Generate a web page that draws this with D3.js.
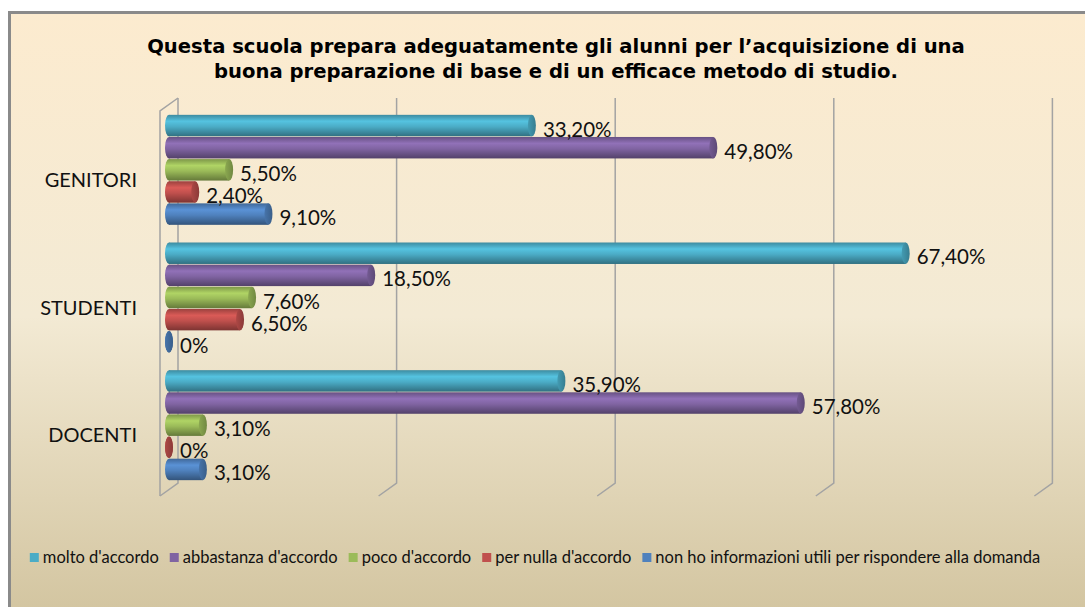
<!DOCTYPE html>
<html>
<head>
<meta charset="utf-8">
<script src="https://cdn.jsdelivr.net/npm/d3@7"></script>
<style>
  html, body { margin: 0; padding: 0; background: #fff; }
  svg { display: block; }
</style>
</head>
<body>
<svg id="chart" width="1085" height="607"></svg>
<script>
// data (percent)
const categories = ['GENITORI', 'STUDENTI', 'DOCENTI'];
const seriesNames = [
  "molto d'accordo",
  "abbastanza d'accordo",
  "poco d'accordo",
  "per nulla d'accordo",
  'non ho informazioni utili per rispondere alla domanda'
];
const molto = [33.2, 67.4, 35.9];
const abbastanza = [49.8, 18.5, 57.8];
const poco = [5.5, 7.6, 3.1];
const perNulla = [2.4, 6.5, 0];
const nonHoInfo = [9.1, 0, 3.1];
const tickValues = [0, 20, 40, 60, 80];
const seriesColors = ['#4BACC6', '#8064A2', '#9BBB59', '#C0504D', '#4F81BD'];

const titleLines = [
  'Questa scuola prepara adeguatamente gli alunni per l\u2019acquisizione di una',
  'buona preparazione di base e di un efficace metodo di studio.'
];

const seriesValues = [molto, abbastanza, poco, perNulla, nonHoInfo];

var svg = d3.select('#chart'),
  width = +svg.attr('width'),
  height = +svg.attr('height');

var defs = svg.append('defs');

// chart background
var bg = defs.append('linearGradient').attr('id', 'bg')
  .attr('x1', 0).attr('y1', 0).attr('x2', 0).attr('y2', 1);
bg.append('stop').attr('offset', '0%').attr('stop-color', '#fcebcf');
bg.append('stop').attr('offset', '50%').attr('stop-color', '#f3ead4');
bg.append('stop').attr('offset', '100%').attr('stop-color', '#d2c49f');

svg.append('rect')
  .attr('x', 9.5).attr('y', 12.5)
  .attr('width', width).attr('height', height)
  .attr('fill', 'url(#bg)')
  .attr('stroke', '#8a8a8a')
  .attr('stroke-width', 3);

// title
svg.append('g').selectAll('text')
  .data(titleLines)
  .enter()
  .append('text')
  .attr('x', 556)
  .attr('y', (d, i) => 53 + i * 25)
  .attr('text-anchor', 'middle')
  .style('font-family', 'Verdana, "DejaVu Sans", sans-serif')
  .style('font-weight', 'bold')
  .style('font-size', '19.6px')
  .text(d => d);

// scales
var depthX = 18, depthY = 13; // 3d wall offset
var x = d3.scaleLinear().domain([0, 80]).range([169, 169 + 80 * 10.93]);
var y = d3.scaleBand().domain(categories).range([106, 489]);
var groupH = 110;
var yInner = d3.scaleBand()
  .domain(d3.range(seriesNames.length))
  .range([(y.bandwidth() - groupH) / 2, (y.bandwidth() + groupH) / 2])
  .paddingInner(0.03);

var backTop = y.range()[0] - 8, backBottom = y.range()[1] - 6;

// gridlines (back wall + floor)
var grid = svg.append('g')
  .attr('stroke', '#a3a3a3')
  .attr('stroke-width', 1.5)
  .attr('fill', 'none');

grid.selectAll('path.gl')
  .data(tickValues)
  .enter()
  .append('path')
  .attr('class', 'gl')
  .attr('d', d => {
    var bx = x(d) + depthX / 2;
    return 'M' + bx + ',' + backTop + 'V' + backBottom +
      'L' + (bx - depthX) + ',' + (backBottom + depthY);
  });

// left side wall
var fx = x(0) - depthX / 2;
grid.append('path')
  .attr('d', 'M' + fx + ',' + (backBottom + depthY) + 'V' + (backTop + depthY) +
    'L' + (fx + depthX) + ',' + backTop);

// bars as cylinders
seriesColors.forEach((c, i) => {
  var base = d3.color(c);
  var g = defs.append('linearGradient').attr('id', 'cyl' + i)
    .attr('x1', 0).attr('y1', 0).attr('x2', 0).attr('y2', 1);
  g.append('stop').attr('offset', '0%').attr('stop-color', base.darker(0.6));
  g.append('stop').attr('offset', '30%').attr('stop-color', base.brighter(0.35));
  g.append('stop').attr('offset', '55%').attr('stop-color', base);
  g.append('stop').attr('offset', '100%').attr('stop-color', base.darker(1.2));
  var e = defs.append('linearGradient').attr('id', 'cap' + i)
    .attr('x1', 0).attr('y1', 0).attr('x2', 1).attr('y2', 0);
  e.append('stop').attr('offset', '0%').attr('stop-color', base.darker(0.3));
  e.append('stop').attr('offset', '100%').attr('stop-color', base.darker(0.9));
});

var bars = [];
categories.forEach((cat, ci) => {
  seriesValues.forEach((vals, si) => {
    bars.push({ cat: cat, s: si, v: vals[ci] });
  });
});

var capRx = 4;
var bh = yInner.bandwidth();

var barG = svg.append('g').selectAll('g')
  .data(bars)
  .enter()
  .append('g')
  .attr('transform', d => 'translate(0,' + (y(d.cat) + yInner(d.s)) + ')');

barG.append('ellipse')
  .attr('cx', x(0))
  .attr('cy', bh / 2)
  .attr('rx', capRx)
  .attr('ry', bh / 2)
  .attr('fill', d => 'url(#cyl' + d.s + ')');

barG.append('rect')
  .attr('x', x(0))
  .attr('y', 0)
  .attr('width', d => x(d.v) - x(0))
  .attr('height', bh)
  .attr('fill', d => 'url(#cyl' + d.s + ')');

barG.append('ellipse')
  .attr('cx', d => x(d.v))
  .attr('cy', bh / 2)
  .attr('rx', capRx)
  .attr('ry', bh / 2)
  .attr('fill', d => 'url(#cap' + d.s + ')');

// value labels
var it = d3.formatLocale({ decimal: ',', thousands: '.', grouping: [3], currency: ['€', ''] });
var fmt = it.format('.2f');

svg.append('g').selectAll('text')
  .data(bars)
  .enter()
  .append('text')
  .attr('x', d => x(d.v) + 11)
  .attr('y', d => y(d.cat) + yInner(d.s) + bh / 2 + 11)
  .style('font-family', 'Lato, sans-serif')
  .style('font-size', '20.5px')
  .attr('fill', '#111')
  .text(d => (d.v === 0 ? '0%' : fmt(d.v) + '%'));

// category labels
svg.append('g').selectAll('text')
  .data(categories)
  .enter()
  .append('text')
  .attr('x', 137)
  .attr('y', d => y(d) + y.bandwidth() / 2 + 17)
  .attr('text-anchor', 'end')
  .style('font-family', 'Lato, sans-serif')
  .style('font-size', '20px')
  .attr('fill', '#111')
  .text(d => d);

// legend
var legend = svg.append('g').attr('transform', 'translate(0,563)');
var lx = 0;
var items = legend.selectAll('g')
  .data(seriesNames)
  .enter()
  .append('g');
items.append('rect')
  .attr('y', -10)
  .attr('width', 9)
  .attr('height', 9)
  .attr('fill', (d, i) => seriesColors[i]);
items.append('text')
  .attr('x', 13)
  .attr('y', 0)
  .style('font-family', 'Lato, sans-serif')
  .style('font-size', '16.5px')
  .attr('fill', '#111')
  .text(d => d);
items.each(function () {
  d3.select(this).attr('transform', 'translate(' + lx + ',0)');
  lx += 13 + d3.select(this).select('text').node().getComputedTextLength() + 11;
});
legend.attr('transform', 'translate(' + (535 - (lx - 11) / 2) + ',563)');
</script>
</body>
</html>
